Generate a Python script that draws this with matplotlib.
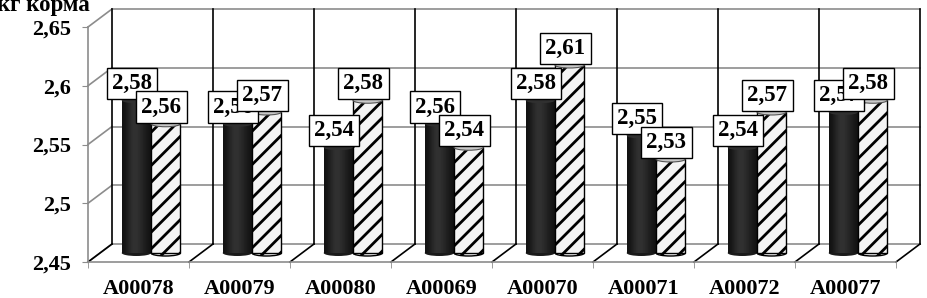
import numpy as np
import matplotlib
matplotlib.use("Agg")
import matplotlib.pyplot as plt
from matplotlib.patches import Rectangle, Ellipse

# ---- data ----
categories = ['A00078', 'A00079', 'A00080', 'A00069', 'A00070', 'A00071', 'A00072', 'A00077']
series_black = [2.58, 2.56, 2.54, 2.56, 2.58, 2.55, 2.54, 2.57]
series_hatch = [2.56, 2.57, 2.58, 2.54, 2.61, 2.53, 2.57, 2.58]
yticks = [2.45, 2.5, 2.55, 2.6, 2.65]
ytick_labels = ['2,45', '2,5', '2,55', '2,6', '2,65']
y_title = 'кг корма'

plt.rcParams['hatch.linewidth'] = 2.0
FONT = 'Liberation Serif'

W, H = 928, 298
fig = plt.figure(figsize=(W / 100, H / 100), dpi=100)
ax_left, ax_bottom, ax_w, ax_h = 88, 36, 808, 235
ax = fig.add_axes([ax_left / W, ax_bottom / H, ax_w / W, ax_h / H])
n = len(categories)
ymin, ymax = 2.45, 2.65
ax.set_xlim(0, n)
ax.set_ylim(ymin, ymax)

# pixel -> data conversion for depth offset
ux = n / ax_w
uy = (ymax - ymin) / ax_h
DX, DY = 24 * ux, 18 * uy          # back wall offset
MX, MY = DX / 2, DY / 2             # bars at mid depth

GRAY = '#8c8c8c'

# back wall horizontal grid lines
for t in yticks:
    ax.plot([DX, n + DX], [t + DY, t + DY], color=GRAY, lw=1.2, clip_on=False, zorder=1)
    # left side wall diagonals
    ax.plot([0, DX], [t, t + DY], color=GRAY, lw=1.2, clip_on=False, zorder=1)
# back wall vertical lines at category boundaries
for k in range(n + 1):
    ax.plot([k + DX, k + DX], [ymin + DY, ymax + DY], color='black', lw=1.2,
            clip_on=False, zorder=1.5)
    # floor diagonals
    ax.plot([k, k + DX], [ymin, ymin + DY], color='black', lw=1.2, clip_on=False, zorder=1.5)

# axes styling
for s in ['top', 'right']:
    ax.spines[s].set_visible(False)
for s in ['left', 'bottom']:
    ax.spines[s].set_color(GRAY)
    ax.spines[s].set_linewidth(1.2)
ax.set_yticks(yticks)
ax.set_yticklabels(ytick_labels, fontfamily=FONT, fontweight='bold', fontsize=16)
ax.tick_params(axis='y', direction='out', length=4.3, color=GRAY, pad=8)
ax.set_xticks(np.arange(n) + 0.5)
ax.set_xticklabels(categories, fontfamily=FONT, fontweight='bold', fontsize=16)
ax.set_xticks(np.arange(n + 1), minor=True)
ax.tick_params(axis='x', which='major', length=0, pad=12)
ax.tick_params(axis='x', which='minor', direction='out', length=4.3, color=GRAY)
ax.patch.set_visible(False)

fig.text(90 / W, 1 - 11 / H, y_title, ha='right', va='baseline',
         fontfamily=FONT, fontweight='bold', fontsize=16.5)

bw = 0.29
eh = 6 * uy
offsets = [-0.14, 0.15]


def cylinder(xc, top, kind, z):
    x0 = xc - bw / 2
    base = ymin + MY
    t = top + MY
    if kind == 'black':
        body = Rectangle((x0, base), bw, t - base, fc='#262626', ec='none', zorder=z, clip_on=False)
        ax.add_patch(body)
        grad = np.array([[0.07, 0.12, 0.18, 0.2, 0.18, 0.14, 0.1, 0.07]])
        im = ax.imshow(grad, cmap='gray', vmin=0, vmax=1, aspect='auto',
                       extent=(x0, x0 + bw, base, t), zorder=z + 0.01,
                       interpolation='bicubic')
        im.set_clip_path(body)
        ax.add_patch(Ellipse((xc, base), bw, eh, fc='#1a1a1a', ec='none', zorder=z, clip_on=False))
        ax.add_patch(Ellipse((xc, t), bw, eh, fc='#303030', ec='none',
                             zorder=z + 0.02, clip_on=False))
    else:
        ax.add_patch(Ellipse((xc, base), bw, eh, fc='#f4f4f4', ec='black', lw=1,
                             hatch='//', zorder=z, clip_on=False))
        ax.add_patch(Rectangle((x0, base), bw, t - base, fc='#f4f4f4', ec='black', lw=1,
                               hatch='//', zorder=z + 0.01, clip_on=False))
        ax.add_patch(Ellipse((xc, t), bw, eh, fc='#c8c8c8', ec='#555555', lw=0.8,
                             zorder=z + 0.02, clip_on=False))


z = 3
for i in range(n):
    for j, (vals, kind) in enumerate([(series_black, 'black'), (series_hatch, 'hatch')]):
        xc = i + 0.5 + offsets[j] + MX
        cylinder(xc, vals[i], kind, z)
        z += 0.1
for i in range(n):
    for j, vals in enumerate([series_black, series_hatch]):
        xc = i + 0.5 + offsets[j] + MX
        ax.annotate(f"{vals[i]:.2f}".replace('.', ','), (xc, vals[i] + MY),
                    xytext=(-3.0, 4.5), textcoords='offset points',
                    ha='center', va='bottom', fontfamily=FONT, fontweight='bold',
                    fontsize=16.5, zorder=20 + i * 2 + j, annotation_clip=False,
                    bbox=dict(boxstyle='square,pad=0.22', fc='white', ec='black', lw=1))

fig.savefig('out.png', dpi=100)
